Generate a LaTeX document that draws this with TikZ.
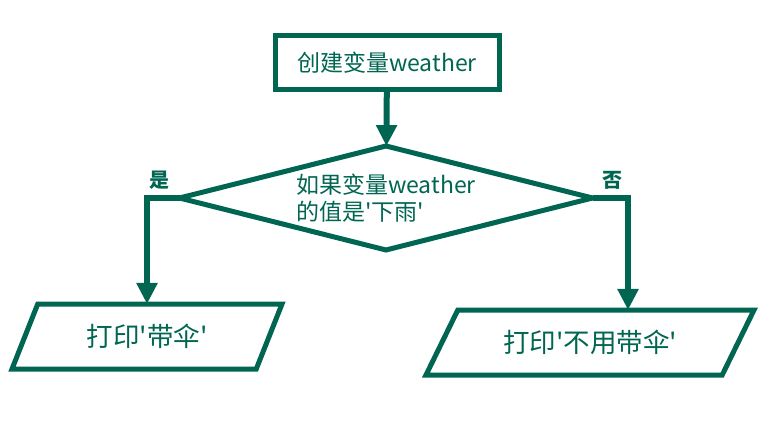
\documentclass[tikz,border=0pt]{standalone}
\usepackage{fontspec}
\setmainfont{Noto Sans CJK SC}[Ligatures=TeXOff]
\usetikzlibrary{shapes.geometric,arrows.meta}
\definecolor{flowgreen}{RGB}{0,102,81}

\begin{document}
\begin{tikzpicture}[
    x=1pt, y=-1pt,
    every node/.style={text=flowgreen, font=\fontsize{23}{27}\selectfont},
    box/.style={draw=flowgreen, line width=5pt, outer sep=0pt},
    process/.style={box, rectangle, minimum width=224pt, minimum height=54pt},
    decision/.style={box, diamond, aspect=3.97, inner sep=0pt,
        minimum width=413pt, minimum height=104pt, align=left},
    output/.style={box, trapezium, trapezium stretches body, minimum height=65pt,
        font=\fontsize{26.5}{30}\selectfont},
    flow/.style={draw=flowgreen, line width=6pt, -{Triangle[length=21pt,width=20pt]}},
    branch/.style={font=\bfseries\fontsize{20}{24}\selectfont}
]
    \useasboundingbox (0,0) rectangle (767,446);

    \node[process] (start) at (387,63) {创建变量weather};
    \node[decision] (cond) at (386,198) {如果变量weather\\的值是'下雨'};
    \node[output, trapezium left angle=50.5, trapezium right angle=129.5,
        minimum width=270pt] (yes) at (147,336.5) {打印'带伞'};
    \node[output, trapezium left angle=44.6, trapezium right angle=135.4,
        minimum width=328pt] (no) at (590,342.5) {打印'不用带伞'};

    \node[branch] (yeslabel) at (159,180) {是};
    \node[branch] (nolabel) at (612,180) {否};

    % connectors
    \draw[flow] (start) -- (cond);
    \draw[flow] (cond.west) -| (yes.north);
    \draw[flow] (cond.east) -| ([xshift=38pt]no.north);
\end{tikzpicture}
\end{document}
